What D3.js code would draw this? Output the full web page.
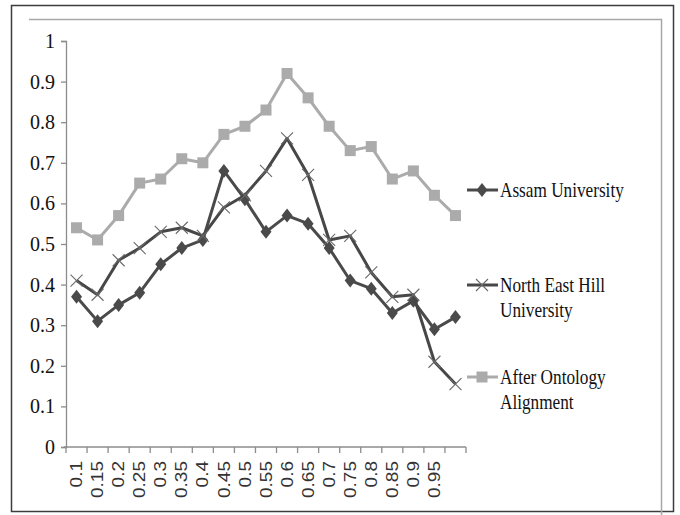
<!DOCTYPE html>
<html>
<head>
<meta charset="utf-8">
<script src="https://cdn.jsdelivr.net/npm/d3@7/dist/d3.min.js"></script>
<style>
  html, body { margin: 0; padding: 0; background: #fff; }
  svg { display: block; }
</style>
</head>
<body>
<svg id="chart" width="680" height="515"></svg>
<script>
// Threshold categories along the x axis (last slot has no label)
const categories = ["0.1","0.15","0.2","0.25","0.3","0.35","0.4","0.45","0.5","0.55","0.6","0.65","0.7","0.75","0.8","0.85","0.9","0.95",""];

// Series values per threshold
const assam = [0.37,0.31,0.35,0.38,0.45,0.49,0.51,0.68,0.61,0.53,0.57,0.55,0.49,0.41,0.39,0.33,0.36,0.29,0.32];
const nehu = [0.41,0.375,0.46,0.49,0.53,0.54,0.52,0.59,0.62,0.68,0.76,0.67,0.51,0.52,0.43,0.37,0.375,0.21,0.155];
const aligned = [0.54,0.51,0.57,0.65,0.66,0.71,0.70,0.77,0.79,0.83,0.92,0.86,0.79,0.73,0.74,0.66,0.68,0.62,0.57];

const yTicks = [0,0.1,0.2,0.3,0.4,0.5,0.6,0.7,0.8,0.9,1];

const series = [
  { name: ["Assam University"], values: assam, color: "#4a4a4a", marker: "diamond" },
  { name: ["North East Hill", "University"], values: nehu, color: "#474747", marker: "cross" },
  { name: ["After Ontology", "Alignment"], values: aligned, color: "#ababab", marker: "square" }
];

const svg = d3.select("#chart");

// Outer frame and the inner chart-area border
svg.append("rect").attr("x", 11.5).attr("y", 5.5).attr("width", 662).attr("height", 506)
  .attr("fill", "none").attr("stroke", "#3c3c3c").attr("stroke-width", 1.5);
svg.append("path").attr("d", "M29,19.5H661.5V515")
  .attr("fill", "none").attr("stroke", "#a8a8a8").attr("stroke-width", 1.5);

const x = d3.scaleBand().domain(categories).range([66, 466]).padding(0);
const y = d3.scaleLinear().domain([0, 1]).range([447, 41]);
const cx = d => x(d) + x.bandwidth() / 2;

// Y axis
const yAxis = svg.append("g").attr("transform", "translate(66,0)")
  .call(d3.axisLeft(y).tickValues(yTicks).tickFormat(d => d === 0 || d === 1 ? String(d) : d3.format(".1f")(d)).tickSize(5).tickPadding(6));
yAxis.select(".domain").attr("stroke", "#8c8c8c").attr("stroke-width", 1.3);
yAxis.selectAll(".tick line").attr("stroke", "#8c8c8c").attr("stroke-width", 1.3);
yAxis.selectAll(".tick text").attr("font-family", "'Liberation Serif', 'Times New Roman', serif")
  .attr("font-size", 20).attr("fill", "#111");

// X axis: ticks sit on band boundaries
const xAxis = svg.append("g").attr("transform", "translate(0,447)");
xAxis.append("line").attr("x1", 64).attr("x2", 466).attr("stroke", "#8c8c8c").attr("stroke-width", 1.3);
const bounds = categories.map(c => x(c)).concat([x.range()[1]]);
xAxis.selectAll("line.tk").data(bounds).join("line").attr("class", "tk")
  .attr("x1", d => d).attr("x2", d => d).attr("y1", 0).attr("y2", 6)
  .attr("stroke", "#8c8c8c").attr("stroke-width", 1.3);
xAxis.selectAll("text").data(categories).join("text")
  .attr("transform", d => `translate(${cx(d)},14) rotate(-90) scale(1,0.85)`)
  .attr("text-anchor", "end").attr("dy", "0.35em")
  .attr("font-family", "'Liberation Sans', Arial, sans-serif").attr("font-size", 19)
  .attr("fill", "#333").text(d => d);

// Marker shapes
function drawMarker(g, type, color) {
  if (type === "diamond") {
    g.append("path").attr("d", "M0,-7L5.5,0L0,7L-5.5,0Z").attr("fill", color);
  } else if (type === "square") {
    g.append("rect").attr("x", -5.5).attr("y", -5.5).attr("width", 11).attr("height", 11).attr("fill", color);
  } else {
    g.append("path").attr("d", "M-6,-6L6,6M-6,6L6,-6").attr("stroke", "#6a6a6a").attr("stroke-width", 1.1).attr("fill", "none");
  }
}

const line = d3.line().x((d, i) => cx(categories[i])).y(d => y(d));

series.forEach(s => {
  svg.append("path").datum(s.values).attr("d", line)
    .attr("fill", "none").attr("stroke", s.color).attr("stroke-width", 3).attr("stroke-linejoin", "round");
  s.values.forEach((v, i) => {
    const g = svg.append("g").attr("transform", `translate(${cx(categories[i])},${y(v)})`);
    drawMarker(g, s.marker, s.color);
  });
});

// Legend
const legendY = [190, 285, 377];
series.forEach((s, k) => {
  const ly = legendY[k];
  svg.append("line").attr("x1", 467).attr("x2", 498).attr("y1", ly).attr("y2", ly)
    .attr("stroke", s.color).attr("stroke-width", 3);
  drawMarker(svg.append("g").attr("transform", `translate(482,${ly})`), s.marker, s.color);
  s.name.forEach((t, j) => {
    svg.append("text")
      .attr("transform", `translate(500,${ly + 7 + j * 24.5}) scale(0.82,1)`)
      .attr("font-family", "'Liberation Serif', 'Times New Roman', serif").attr("font-size", 21)
      .attr("fill", "#111").text(t);
  });
});
</script>
</body>
</html>
